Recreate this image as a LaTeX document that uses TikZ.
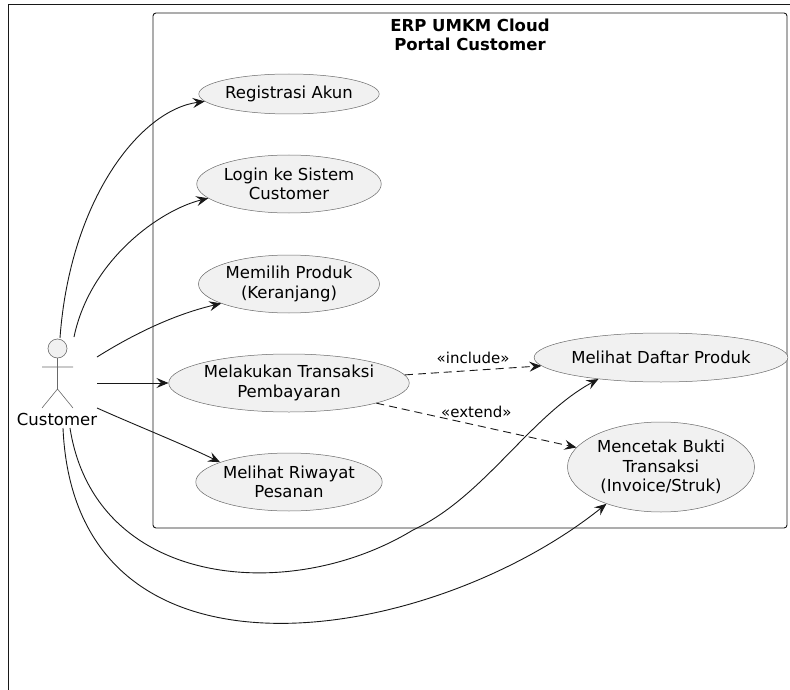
\documentclass[tikz,border=0pt]{standalone}
\usepackage{fontspec}
\setmainfont{DejaVu Sans}
\usetikzlibrary{arrows.meta,shapes.geometric}
\definecolor{ucfill}{HTML}{F1F1F1}
\definecolor{ucline}{HTML}{181818}

\begin{document}
\begin{tikzpicture}[x=1pt,y=-1pt,>={Stealth[length=12pt,width=10pt,inset=4.5pt]},
	usecase/.style={ellipse,draw=ucline!65,line width=0.5pt,fill=ucfill,inner sep=0pt,align=center,font=\fontsize{16.5}{19.5}\selectfont},
	link/.style={->,draw=ucline,line width=0.9pt},
	dep/.style={link,dash pattern=on 8pt off 5pt},
	stereo/.style={font=\fontsize{15}{18}\selectfont}]
				\useasboundingbox (0,0) rectangle (790,690);
				
				%Rahmen und System zeichnen
				\draw[ucline,line width=0.8pt] (8.5,690) -- (8.5,4.5) -- (790,4.5);
				\draw[ucline,line width=0.9pt,rounded corners=3pt] (153,13) rectangle (787,528);
				\node[font=\bfseries\fontsize{16.5}{19.5}\selectfont,align=center] (title) at (470,35) {ERP UMKM Cloud\\Portal Customer};
				
				%Akteur zeichnen
				\draw[ucline!65,line width=0.6pt,fill=ucfill] (57.5,348.5) circle (9.5);
				\draw[ucline!65,line width=0.6pt] (57.5,358) -- (57.5,389) (42,367) -- (73,367) (42,408) -- (57.5,389) -- (73,408);
				\node[font=\fontsize{16.5}{19.5}\selectfont] (customer) at (57,419) {Customer};
				
				%Anwendungsfaelle zeichnen
				\foreach \name/\y/\w/\h/\txt in
					{reg/94/171/40/{Registrasi Akun},login/184/181/58/{Login ke Sistem\\Customer},pilih/284/181/58/{Memilih Produk\\(Keranjang)},trans/383/234/58/{Melakukan Transaksi\\Pembayaran},riwayat/482/181/58/{Melihat Riwayat\\Pesanan}}
						\node[usecase,minimum width=\w pt,minimum height=\h pt] (\name) at (289,\y) {\txt};
				\node[usecase,minimum width=213pt,minimum height=49pt] (daftar) at (661,357.5) {Melihat Daftar Produk};
				\node[usecase,minimum width=187pt,minimum height=90pt] (cetak) at (661,467) {Mencetak Bukti\\Transaksi\\(Invoice/Struk)};
				
				%Verbindungen zeichnen
				\foreach \name/\x/\y in
					{a1/60/338,a2/74/337,a3/97/357,a4/97/383,a5/97/408,a6/70/428,a7/63/428}
						\coordinate (\name) at (\x,\y);
				\foreach \a/\px/\py/\qx/\qy/\b in
					{a1/70/200/140/110/reg.185,a2/90/260/160/210/login.190,a3/140/330/180/313/pilih.196,a5/135/425/185/445/riwayat.164,a7/75/705/430/645/cetak.214}
						\draw[link] (\a) .. controls (\px,\py) and (\qx,\qy) .. (\b);
				\draw[link] (a4) -- (trans);
				\draw[link] (a6) .. controls (95,588) and (290,605) .. (413,530) .. controls (483,498) and (530,416) .. (daftar.199);
				\draw[dep] (trans.4) -- node[stereo,above=2.5pt] (inc) {«include»} (daftar.184);
				\draw[dep] (trans.347) -- node[stereo,above=4pt] (ext) {«extend»} (cetak.167);
	\end{tikzpicture}
\end{document}
